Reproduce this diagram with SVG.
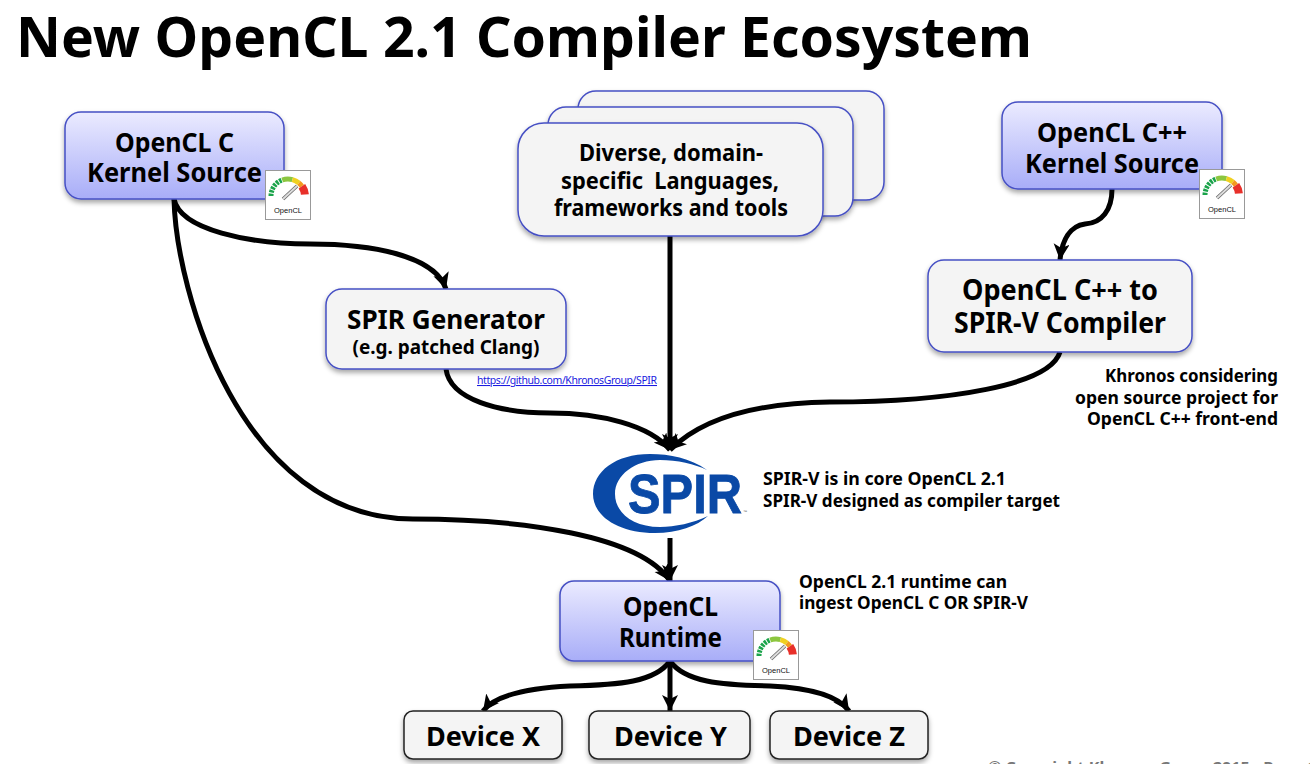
<svg xmlns="http://www.w3.org/2000/svg" width="1310" height="764" viewBox="0 0 1310 764">
<style>
text{font-family:"Noto Sans","DejaVu Sans",sans-serif;font-weight:700;fill:#000;text-anchor:middle}
.blue{fill:url(#bg);stroke:#4650c4;stroke-width:1.5;filter:url(#sh)}
.gray{fill:#f4f4f4;stroke:#4650c4;stroke-width:1.5;filter:url(#sh)}
.dev{fill:#f4f4f4;stroke:#222;stroke-width:1.5;filter:url(#sh)}
.c{fill:none;stroke:#000;stroke-width:5;marker-end:url(#a)}
.n{font-size:27px}
.note{font-size:17px;text-anchor:start}
.r{text-anchor:end}
.logo{fill:#0a49a6}
</style>
<defs>
<linearGradient id="bg" x1="0" y1="0" x2="0" y2="1"><stop offset="0" stop-color="#ebebff"/><stop offset="1" stop-color="#a8adf8"/></linearGradient>
<filter id="sh" x="-10%" y="-10%" width="120%" height="125%"><feDropShadow dx="0" dy="3" stdDeviation="2.5" flood-color="#000" flood-opacity=".35"/></filter>
<marker id="a" markerUnits="userSpaceOnUse" markerWidth="18" markerHeight="18" refX="16" refY="8" orient="auto"><path d="M0 0L16 8L0 16L4 8Z" fill="#000"/></marker>
<g id="badge">
<rect x=".5" y=".5" width="45" height="49" fill="#fff" stroke="#999"/>
<path d="M6 26A17 17 0 0 1 17.200 10" fill="none" stroke="#1aa34a" stroke-width="5" stroke-dasharray="2.500 1"/>
<path d="M17.200 10A17 17 0 0 1 27.400 9.600" fill="none" stroke="#8cc63f" stroke-width="5"/>
<path d="M27.400 9.600A17 17 0 0 1 33.900 13" fill="none" stroke="#f0d020" stroke-width="5"/>
<path d="M33.900 13A17 17 0 0 1 36.900 16.200" fill="none" stroke="#f29a1f" stroke-width="5"/>
<path d="M36.900 16.200A17 17 0 0 1 39.900 24.500" fill="none" stroke="#e8302a" stroke-width="8"/>
<path d="M18 29L32 16" stroke="#666" stroke-width="3.500"/>
<path d="M18 29L32 16" stroke="#ddd" stroke-width="2"/>
<text x="23" y="43" style="font-size:7.500px;font-weight:400;font-family:'Liberation Sans',sans-serif;fill:#111">OpenCL</text>
</g>
</defs>
<rect width="1310" height="764" fill="#fff"/>
<text x="16" y="57" style="font-size:56px;text-anchor:start" textLength="1016" lengthAdjust="spacingAndGlyphs">New OpenCL 2.1 Compiler Ecosystem</text>

<g id="connectors">
<path class="c" d="M174 199C180 230 250 244 310 244C370 244 435 255 446 289"/>
<path class="c" d="M174 199C176 290 240 519 413 519C520 519 640 535 670 581"/>
<path class="c" d="M446 369C450 400 500 413 550 413C600 413 650 425 670 450"/>
<path class="c" d="M670 236V450"/>
<path class="c" d="M1060 352C1050 385 950 402 830 402C750 403 700 420 670 450"/>
<path class="c" d="M1112 189C1112 210 1102 223 1085 224C1070 226 1062 240 1060 260"/>
<path class="c" d="M670 538V581"/>
<path class="c" d="M670 661C655 682 620 685 570 686C530 688 495 695 483 711"/>
<path class="c" d="M670 661V711"/>
<path class="c" d="M670 661C685 682 720 685 770 686C810 688 838 695 849 711"/>
</g>

<g id="node-opencl-c">
<rect class="blue" x="65" y="112" width="219" height="87" rx="16"/>
<text class="n" x="174.500" y="152" textLength="119" lengthAdjust="spacingAndGlyphs">OpenCL C</text>
<text class="n" x="174.500" y="182" textLength="175" lengthAdjust="spacingAndGlyphs">Kernel Source</text>
<use href="#badge" x="265" y="170"/>
</g>
<g id="node-languages">
<rect class="gray" x="578" y="91" width="306" height="109" rx="18"/>
<rect class="gray" x="548" y="107" width="305" height="109" rx="18"/>
<rect class="gray" x="518" y="123" width="305" height="113" rx="26"/>
<text x="671" y="161" style="font-size:24px" textLength="184" lengthAdjust="spacingAndGlyphs">Diverse, domain-</text>
<text x="670" y="189" style="font-size:24px;white-space:pre" textLength="218" lengthAdjust="spacingAndGlyphs">specific  Languages,</text>
<text x="671" y="216" style="font-size:24px" textLength="234" lengthAdjust="spacingAndGlyphs">frameworks and tools</text>
</g>
<g id="node-opencl-cpp">
<rect class="blue" x="1002" y="102" width="220" height="87" rx="16"/>
<text class="n" x="1112" y="142" textLength="150" lengthAdjust="spacingAndGlyphs">OpenCL C++</text>
<text class="n" x="1112" y="173" textLength="174" lengthAdjust="spacingAndGlyphs">Kernel Source</text>
<use href="#badge" x="1199" y="169"/>
</g>
<g id="node-cpp-compiler">
<rect class="gray" x="928" y="260" width="264" height="92" rx="16"/>
<text x="1060" y="300" style="font-size:28px" textLength="196" lengthAdjust="spacingAndGlyphs">OpenCL C++ to</text>
<text x="1060" y="333" style="font-size:28px" textLength="212" lengthAdjust="spacingAndGlyphs">SPIR-V Compiler</text>
</g>
<g id="node-spir-generator">
<rect class="gray" x="326" y="289" width="240" height="80" rx="16"/>
<text x="446" y="329" style="font-size:27px" textLength="198" lengthAdjust="spacingAndGlyphs">SPIR Generator</text>
<text x="446" y="354" style="font-size:19px" textLength="187" lengthAdjust="spacingAndGlyphs">(e.g. patched Clang)</text>
</g>
<text x="477" y="384" style="font-size:10.500px;font-weight:400;text-anchor:start;fill:#1a1ae0;text-decoration:underline" textLength="180">https://github.com/KhronosGroup/SPIR</text>

<g id="node-spir-logo">
<path class="logo" d="M707 470C690 458 670 454 650 454C615 454 593 472 593 494C593 516 618 533 655 533C678 533 697 526 708 516C693 523 675 527 660 527C632 527 615 512 615 494C615 475 635 460 660 460C677 460 695 464 707 470Z"/>
<text class="logo" x="628" y="513" style="font-family:'Liberation Sans',sans-serif;font-size:55px;text-anchor:start;stroke:#0a49a6;stroke-width:.8" textLength="114" lengthAdjust="spacingAndGlyphs">SPIR</text>
<text x="743" y="513" style="font-family:'Liberation Sans',sans-serif;font-size:4px;font-weight:400;fill:#555;text-anchor:start">™</text>
</g>

<g id="node-runtime">
<rect class="blue" x="560" y="581" width="220" height="80" rx="14"/>
<text class="n" x="670.500" y="616" textLength="95" lengthAdjust="spacingAndGlyphs">OpenCL</text>
<text class="n" x="670.500" y="647" textLength="103" lengthAdjust="spacingAndGlyphs">Runtime</text>
<use href="#badge" x="753" y="630"/>
</g>
<g id="node-device-x"><rect class="dev" x="404" y="711" width="158" height="48" rx="9"/><text class="n" x="483" y="746" textLength="114" lengthAdjust="spacingAndGlyphs">Device X</text></g>
<g id="node-device-y"><rect class="dev" x="589" y="711" width="161" height="48" rx="9"/><text class="n" x="670.500" y="746" textLength="113" lengthAdjust="spacingAndGlyphs">Device Y</text></g>
<g id="node-device-z"><rect class="dev" x="770" y="711" width="158" height="48" rx="9"/><text class="n" x="849" y="746" textLength="112" lengthAdjust="spacingAndGlyphs">Device Z</text></g>

<g id="notes">
<text class="note r" x="1278" y="382" textLength="173" lengthAdjust="spacingAndGlyphs">Khronos considering</text>
<text class="note r" x="1278" y="404" textLength="203" lengthAdjust="spacingAndGlyphs">open source project for</text>
<text class="note r" x="1278" y="425" textLength="191" lengthAdjust="spacingAndGlyphs">OpenCL C++ front-end</text>
<text class="note" x="763" y="485" textLength="243" lengthAdjust="spacingAndGlyphs">SPIR-V is in core OpenCL 2.1</text>
<text class="note" x="763" y="507" textLength="297" lengthAdjust="spacingAndGlyphs">SPIR-V designed as compiler target</text>
<text class="note" x="799" y="588" textLength="208" lengthAdjust="spacingAndGlyphs">OpenCL 2.1 runtime can</text>
<text class="note" x="799" y="609" textLength="229" lengthAdjust="spacingAndGlyphs">ingest OpenCL C OR SPIR-V</text>
<text x="988" y="772" style="font-size:15px;text-anchor:start;fill:#777" textLength="328" lengthAdjust="spacingAndGlyphs">© Copyright Khronos Group 2015 - Page 1</text>
</g>
</svg>
